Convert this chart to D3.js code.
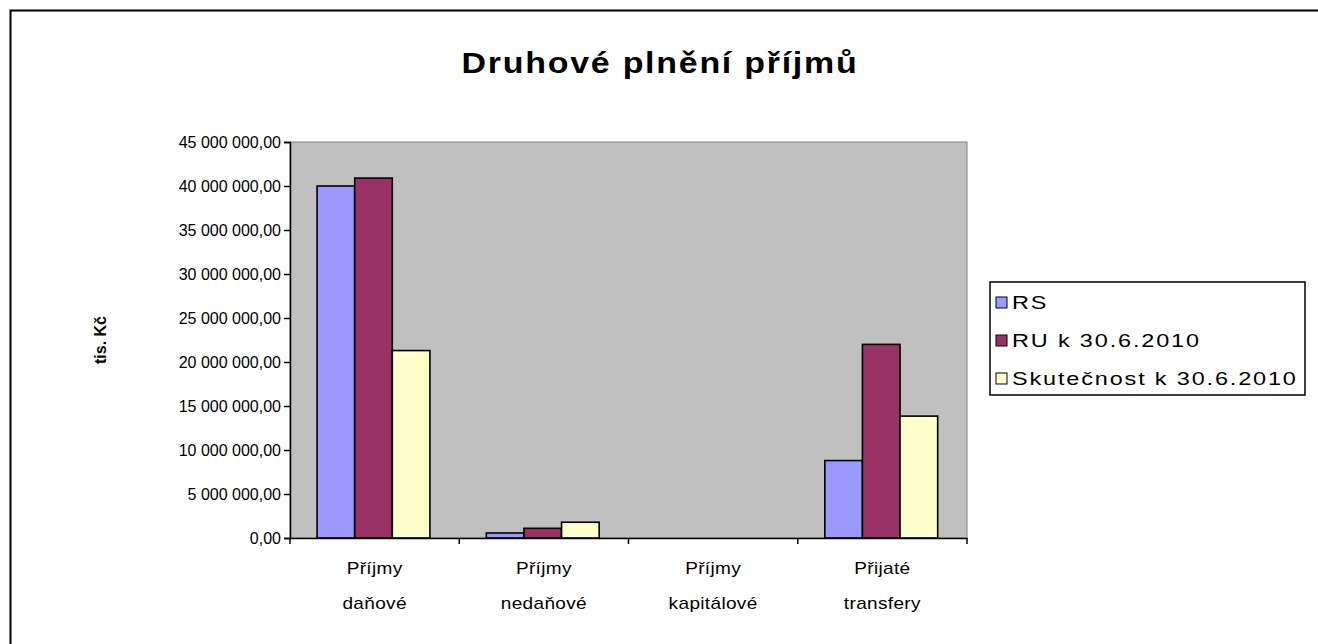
<!DOCTYPE html>
<html><head><meta charset="utf-8">
<script src="https://cdn.jsdelivr.net/npm/d3@7"></script>
<style>body{margin:0;background:#fff}svg{display:block}text{font-family:"Liberation Sans",Arial,sans-serif}</style>
</head><body><svg id="c" width="1318" height="644"></svg>
<script>
const categories = [["Příjmy","daňové"],["Příjmy","nedaňové"],["Příjmy","kapitálové"],["Přijaté","transfery"]];
const seriesNames = ["RS","RU k 30.6.2010","Skutečnost k 30.6.2010"];
const seriesColors = ["#9999ff","#993366","#ffffcc"];
const rsValues = [40000000, 570000, 0, 8800000];
const ruValues = [40900000, 1100000, 0, 22000000];
const skutValues = [21300000, 1790000, 0, 13850000];
const yTicks = [0,5000000,10000000,15000000,20000000,25000000,30000000,35000000,40000000,45000000];
const title = "Druhové plnění příjmů";
const yLabel = "tis. Kč";

const series = [rsValues, ruValues, skutValues];
const svg = d3.select("#c");
svg.append("rect").attr("x",10.5).attr("y",10.5).attr("width",1400).attr("height",700)
  .attr("fill","#fff").attr("stroke","#000").attr("stroke-width",2);

const L=290, R=967, T=142, B=538;
const x = d3.scaleBand().domain(d3.range(categories.length)).range([L,R]).paddingInner(0).paddingOuter(0);
const y = d3.scaleLinear().domain([0,45000000]).range([B,T]);

svg.append("rect").attr("x",L).attr("y",T).attr("width",R-L).attr("height",B-T)
  .attr("fill","#c0c0c0").attr("stroke","#808080").attr("stroke-width",1);

const bw = x.bandwidth()/4.5;
const fmt = v => d3.format(",.2f")(v).replace(/,/g," ").replace(".",",");

series.forEach((vals,si)=>{
  svg.append("g").selectAll("rect").data(vals).join("rect")
    .attr("x",(d,i)=>x(i)+0.72*bw+si*bw)
    .attr("y",d=>y(d))
    .attr("width",bw)
    .attr("height",d=>B-y(d))
    .attr("fill",seriesColors[si])
    .attr("stroke","#000").attr("stroke-width",1.6)
    .attr("display",d=>d>0?null:"none");
});

const ya = svg.append("g").attr("transform",`translate(${L},0)`)
  .call(d3.axisLeft(y).tickValues(yTicks).tickFormat(fmt).tickSize(6).tickPadding(3));
ya.select(".domain").attr("stroke","#000").attr("stroke-width",1.5);
ya.selectAll(".tick line").attr("stroke","#000").attr("stroke-width",1.5);
ya.selectAll(".tick text").attr("font-size",16).attr("fill","#000")
  .style("font-family","Liberation Sans, Arial");

const xa = svg.append("g").attr("transform",`translate(0,${B})`)
  .call(d3.axisBottom(x).tickValues([]).tickSize(0));
xa.select(".domain").attr("stroke","#000").attr("stroke-width",1.5);
const bounds = d3.range(categories.length+1).map(i=> i<categories.length ? x(i) : R);
svg.append("g").selectAll("line").data(bounds).join("line")
  .attr("x1",d=>d).attr("x2",d=>d).attr("y1",B).attr("y2",B+6)
  .attr("stroke","#000").attr("stroke-width",1.5);

// horizontally stretched text helper
function sText(parent, tx, ty, sx, str, opts){
  const g = parent.append("g").attr("transform",`translate(${tx},${ty}) scale(${sx},1)`);
  const t = g.append("text").attr("x",0).attr("y",0).text(str);
  Object.entries(opts).forEach(([k,v])=>t.attr(k,v));
  return t;
}

const cg = svg.append("g");
categories.forEach((d,i)=>{
  d.forEach((line,li)=>sText(cg, x(i)+x.bandwidth()/2, 574+li*35, 1.12, line,
    {"text-anchor":"middle","font-size":17,"letter-spacing":0.3,"fill":"#000"}));
});

sText(svg, 660, 73, 1.17, title, {"text-anchor":"middle","font-size":29,"font-weight":"bold","letter-spacing":1.5});

svg.append("text").attr("transform","translate(106,340) rotate(-90)").attr("text-anchor","middle")
  .attr("font-size",16).attr("font-weight","bold").text(yLabel);

const lg = svg.append("g");
lg.append("rect").attr("x",990).attr("y",282).attr("width",315).attr("height",113)
  .attr("fill","#fff").attr("stroke","#000").attr("stroke-width",1.5);
seriesNames.forEach((n,i)=>{
  const cy = 302+i*38;
  lg.append("rect").attr("x",996).attr("y",cy-5).attr("width",11).attr("height",11)
    .attr("fill",seriesColors[i]).attr("stroke","#000").attr("stroke-width",1);
  sText(lg, 1012, cy+7, 1.235, n, {"font-size":19,"letter-spacing":1.5});
});
</script></body></html>
